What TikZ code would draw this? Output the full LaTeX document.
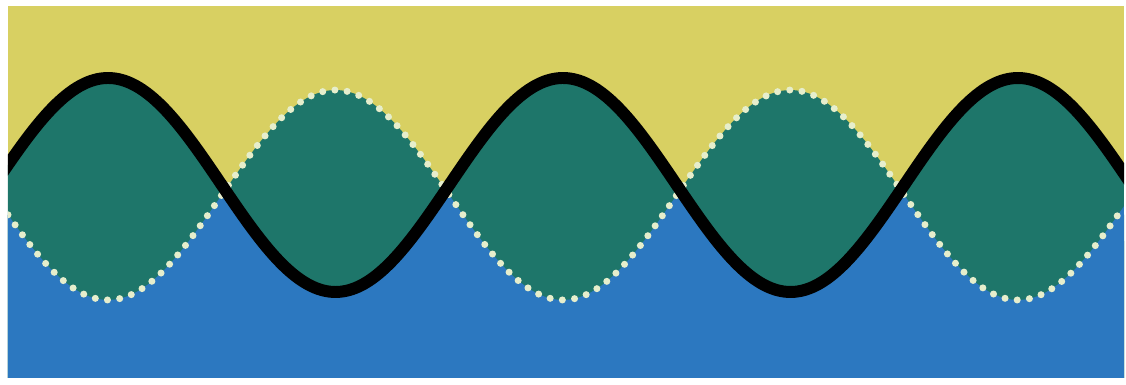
\documentclass[tikz,border=0pt]{standalone}
\definecolor{sand}{RGB}{216,208,98}
\definecolor{sea}{RGB}{30,118,106}
\definecolor{deep}{RGB}{44,120,192}
\definecolor{foam}{RGB}{230,238,204}
\begin{document}
\begin{tikzpicture}[x=0.01cm, y=0.01cm,
		declare function={top(\t)=200+107*cos((\t-108)*0.79121);
			bot(\t)=190-105*cos((\t-108)*0.79121);},
		wave/.style={line width=3.4pt, black, line join=round},
		dots/.style={foam, line width=2pt, line cap=round, dash pattern=on 0pt off 3.5pt}]
	\useasboundingbox (0,0) rectangle (1126,385);
	\clip (8,7) rectangle (1124,379);
	\fill[sand] (8,7) rectangle (1124,379);
	% region under each curve
	\fill[sea] plot[domain=8:1124, samples=200] (\x,{top(\x)}) -- (1124,7) -- (8,7) -- cycle;
	\fill[sea] plot[domain=8:1124, samples=200] (\x,{bot(\x)}) -- (1124,7) -- (8,7) -- cycle;
	% under both curves
	\begin{scope}
		\clip plot[domain=8:1124, samples=200] (\x,{top(\x)}) -- (1124,7) -- (8,7) -- cycle;
		\fill[deep] plot[domain=8:1124, samples=200] (\x,{bot(\x)}) -- (1124,7) -- (8,7) -- cycle;
	\end{scope}
	\draw[dots] plot[domain=8:1124, samples=200, smooth] (\x,{bot(\x)});
	\draw[wave] plot[domain=0:1130, samples=200, smooth] (\x,{top(\x)});
\end{tikzpicture}
\end{document}
